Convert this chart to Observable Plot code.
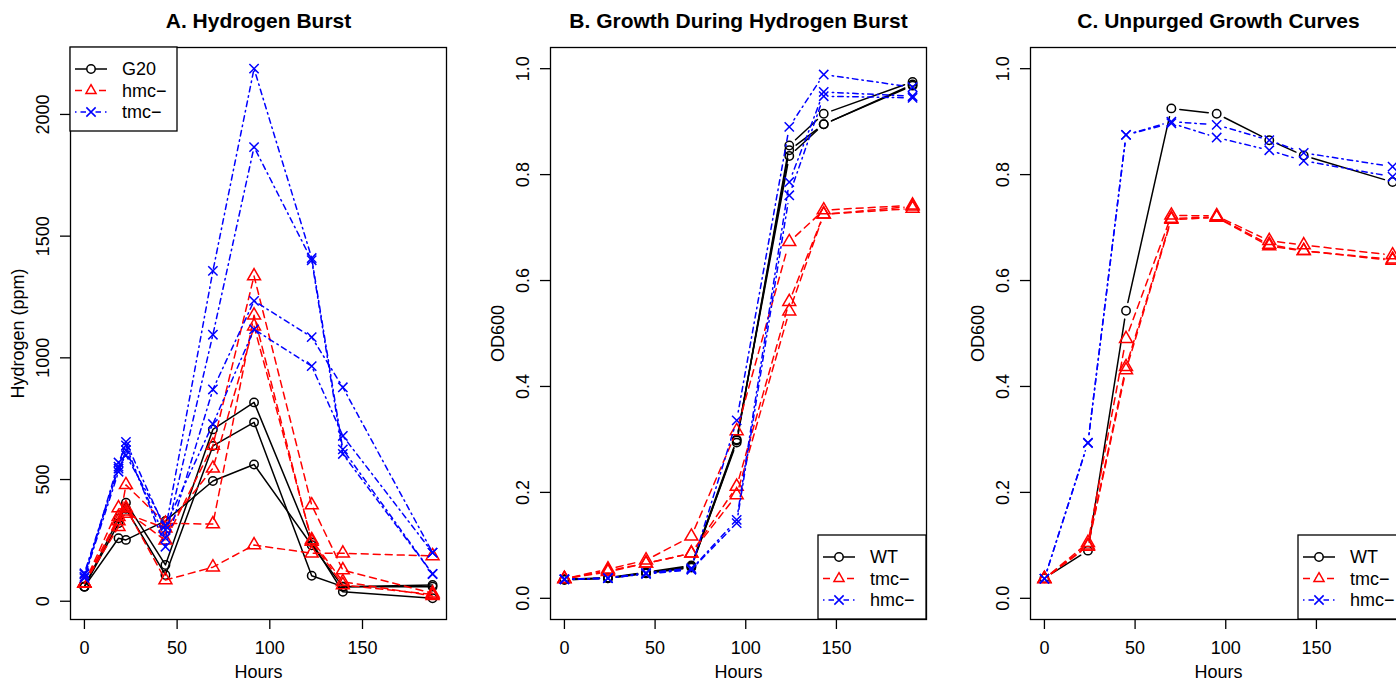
<!DOCTYPE html>
<html><head><meta charset="utf-8">
<script src="https://cdn.jsdelivr.net/npm/d3@7"></script>
<script src="https://cdn.jsdelivr.net/npm/@observablehq/plot@0.6"></script>
<style>
body{margin:0;background:#fff;overflow:hidden;}
#wrap{display:flex;width:1440px;height:681px;}
#wrap svg{flex:none;}
</style></head><body><div id="wrap"></div>
<script>
// ---------- Panel A: Hydrogen burst (ppm) ----------
const hoursA = [0, 18.4, 22.4, 43.7, 69.3, 91.5, 122.6, 139.4, 187.8];
const g20_1 = [60, 259, 252, 330, 494, 562, 230, 60, 60];
const g20_2 = [60, 320, 405, 149, 706, 817, 242, 39, 12];
const g20_3 = [60, 340, 380, 108, 638, 735, 105, 60, 67];
const hmcA_1 = [74, 347, 383, 87, 140, 231, 197, 197, 186];
const hmcA_2 = [74, 306, 478, 320, 317, 1175, 245, 67, 28];
const hmcA_3 = [74, 383, 370, 250, 640, 1336, 395, 128, 33];
const hmcA_4 = [74, 330, 360, 300, 546, 1130, 252, 80, 22];
const tmcA_1 = [115, 553, 655, 293, 1357, 2188, 1410, 624, 112];
const tmcA_2 = [100, 532, 621, 259, 1095, 1866, 1401, 605, 112];
const tmcA_3 = [95, 570, 640, 224, 870, 1234, 1085, 879, 200];
const tmcA_4 = [110, 545, 600, 310, 728, 1117, 966, 679, 200];
const ticksA = [0, 500, 1000, 1500, 2000];

// ---------- Panel B: growth during hydrogen burst (OD600) ----------
const hoursBC = [0, 24, 45, 70, 95, 124, 143, 192];
const wtB_1 = [0.035, 0.038, 0.048, 0.060, 0.294, 0.855, 0.915, 0.975];
const wtB_2 = [0.035, 0.038, 0.047, 0.058, 0.298, 0.846, 0.895, 0.970];
const wtB_3 = [0.036, 0.039, 0.049, 0.062, 0.300, 0.835, 0.895, 0.968];
const tmcB_1 = [0.037, 0.055, 0.072, 0.117, 0.316, 0.673, 0.733, 0.742];
const tmcB_2 = [0.037, 0.052, 0.066, 0.085, 0.211, 0.560, 0.725, 0.736];
const tmcB_3 = [0.037, 0.050, 0.066, 0.085, 0.195, 0.542, 0.725, 0.740];
const hmcB_1 = [0.036, 0.038, 0.048, 0.057, 0.336, 0.890, 0.989, 0.965];
const hmcB_2 = [0.036, 0.038, 0.047, 0.055, 0.148, 0.786, 0.956, 0.948];
const hmcB_3 = [0.036, 0.038, 0.046, 0.054, 0.142, 0.761, 0.948, 0.945];

// ---------- Panel C: unpurged growth curves (OD600) ----------
const wtC_1 = [0.038, 0.090, 0.543, 0.925, 0.915, 0.865, 0.836, 0.786];
const tmcC_1 = [0.037, 0.105, 0.490, 0.723, 0.722, 0.675, 0.667, 0.648];
const tmcC_2 = [0.037, 0.100, 0.437, 0.717, 0.720, 0.668, 0.656, 0.640];
const tmcC_3 = [0.037, 0.098, 0.431, 0.715, 0.719, 0.665, 0.656, 0.638];
const hmcC_1 = [0.037, 0.294, 0.875, 0.900, 0.894, 0.865, 0.841, 0.815];
const hmcC_2 = [0.037, 0.293, 0.875, 0.897, 0.870, 0.846, 0.826, 0.796];
const ticksOD = [0, 0.2, 0.4, 0.6, 0.8, 1.0];
const xTicks = [0, 50, 100, 150];

// ---------- styling ----------
const FONT = "'Liberation Sans', Arial, Helvetica, sans-serif";
const LW = 1.5;
const STY = {
  black: {color: "#000000", dash: null, symbol: "circle", d3sym: d3.symbolCircle, r: 4.2},
  red:   {color: "#ff0000", dash: "7,5", symbol: "triangle", d3sym: d3.symbolTriangle2, r: 4.8},
  blue:  {color: "#0000ff", dash: "1.5,4,5.5,4", symbol: "times", d3sym: d3.symbolTimes, r: 4.3}
};

function pad(lo, hi) { const r = hi - lo; return [lo - 0.04 * r, hi + 0.04 * r]; }

function makePanel(cfg) {
  const marks = [Plot.frame({stroke: "#000", strokeWidth: 1.3})];
  for (const g of cfg.groups) {
    const st = STY[g.style];
    const rows = [], segs = [];
    g.reps.forEach((vals, k) => {
      vals.forEach((v, i) => rows.push({x: cfg.hours[i], y: v, rep: k}));
      for (let i = 1; i < vals.length; i++)
        segs.push({x1: cfg.hours[i - 1], y1: vals[i - 1], x2: cfg.hours[i], y2: vals[i]});
    });
    if (cfg.gap) {
      marks.push(Plot.arrow(segs, {x1: "x1", y1: "y1", x2: "x2", y2: "y2", inset: cfg.gap,
        headLength: 0, bend: 0, stroke: st.color, strokeWidth: LW, strokeDasharray: st.dash}));
    } else {
      marks.push(Plot.line(rows, {x: "x", y: "y", z: "rep", stroke: st.color,
        strokeWidth: LW, strokeDasharray: st.dash}));
    }
    marks.push(Plot.dot(rows, {x: "x", y: "y", symbol: st.symbol, stroke: st.color,
      fill: "none", r: st.r, strokeWidth: LW}));
  }
  marks.push(
    Plot.axisX({ticks: xTicks, tickSize: 10, tickPadding: 12, fontSize: 18, label: null, strokeWidth: 1.3}),
    Plot.axisY({ticks: cfg.yTicks, tickFormat: cfg.yFmt, tickSize: 10, tickPadding: 12,
      tickRotate: -90, fontSize: 18, label: null, strokeWidth: 1.3}),
    Plot.text([cfg.title], {frameAnchor: "top", dy: -26, lineAnchor: "middle",
      fontWeight: "bold", fontSize: 21}),
    Plot.text(["Hours"], {frameAnchor: "bottom", dy: 53, lineAnchor: "middle", fontSize: 18}),
    Plot.text([cfg.ylabel], {frameAnchor: "left", dx: -52, rotate: -90, lineAnchor: "middle",
      textAnchor: "middle", fontSize: 18})
  );
  const svg = Plot.plot({
    width: 480, height: 681,
    marginLeft: 70, marginRight: 34, marginTop: 47, marginBottom: 62,
    x: {domain: cfg.xDomain},
    y: {domain: cfg.yDomain},
    style: {fontFamily: FONT, fontSize: "18px", background: "#fff", color: "#000", overflow: "visible"},
    marks
  });
  addLegend(svg, cfg.legend, cfg.groups);
  return svg;
}

function addLegend(svg, lg, groups) {
  const g = d3.select(svg).append("g").attr("font-family", FONT).attr("font-size", 18)
    .attr("text-anchor", "start");
  g.append("rect").attr("x", lg.x).attr("y", lg.y).attr("width", lg.w).attr("height", lg.h)
    .attr("fill", "#fff").attr("stroke", "#000").attr("stroke-width", 1.3);
  groups.forEach((grp, i) => {
    const st = STY[grp.style];
    const yy = lg.y + 22 + i * 21.5;
    g.append("line").attr("x1", lg.x + 5).attr("x2", lg.x + 37).attr("y1", yy).attr("y2", yy)
      .attr("stroke", st.color).attr("stroke-width", LW).attr("stroke-dasharray", st.dash);
    g.append("path").attr("d", d3.symbol(st.d3sym, Math.PI * st.r * st.r)())
      .attr("transform", `translate(${lg.x + 21},${yy})`)
      .attr("fill", "#fff").attr("stroke", st.color).attr("stroke-width", LW);
    g.append("text").attr("x", lg.x + 52).attr("y", yy).attr("dy", "0.35em")
      .attr("text-anchor", "start").attr("fill", "#000").text(grp.name);
  });
}

const allA = [g20_1, g20_2, g20_3, hmcA_1, hmcA_2, hmcA_3, hmcA_4, tmcA_1, tmcA_2, tmcA_3, tmcA_4].flat();
const wrap = document.getElementById("wrap");

wrap.appendChild(makePanel({
  title: "A. Hydrogen Burst", ylabel: "Hydrogen (ppm)", hours: hoursA,
  xDomain: pad(d3.min(hoursA), d3.max(hoursA)), yDomain: pad(d3.min(allA), d3.max(allA)),
  yTicks: ticksA, yFmt: d3.format("d"), gap: 0,
  groups: [
    {name: "G20", style: "black", reps: [g20_1, g20_2, g20_3]},
    {name: "hmc\u2212", style: "red", reps: [hmcA_1, hmcA_2, hmcA_3, hmcA_4]},
    {name: "tmc\u2212", style: "blue", reps: [tmcA_1, tmcA_2, tmcA_3, tmcA_4]}
  ],
  legend: {x: 70, y: 47, w: 107, h: 84}
}));

wrap.appendChild(makePanel({
  title: "B. Growth During Hydrogen Burst", ylabel: "OD600", hours: hoursBC,
  xDomain: pad(d3.min(hoursBC), d3.max(hoursBC)), yDomain: pad(0, 1),
  yTicks: ticksOD, yFmt: d3.format(".1f"), gap: 8.5,
  groups: [
    {name: "WT", style: "black", reps: [wtB_1, wtB_2, wtB_3]},
    {name: "tmc\u2212", style: "red", reps: [tmcB_1, tmcB_2, tmcB_3]},
    {name: "hmc\u2212", style: "blue", reps: [hmcB_1, hmcB_2, hmcB_3]}
  ],
  legend: {x: 338, y: 535, w: 108, h: 84}
}));

wrap.appendChild(makePanel({
  title: "C. Unpurged Growth Curves", ylabel: "OD600", hours: hoursBC,
  xDomain: pad(d3.min(hoursBC), d3.max(hoursBC)), yDomain: pad(0, 1),
  yTicks: ticksOD, yFmt: d3.format(".1f"), gap: 8.5,
  groups: [
    {name: "WT", style: "black", reps: [wtC_1]},
    {name: "tmc\u2212", style: "red", reps: [tmcC_1, tmcC_2, tmcC_3]},
    {name: "hmc\u2212", style: "blue", reps: [hmcC_1, hmcC_2]}
  ],
  legend: {x: 338, y: 535, w: 108, h: 84}
}));
</script></body></html>
